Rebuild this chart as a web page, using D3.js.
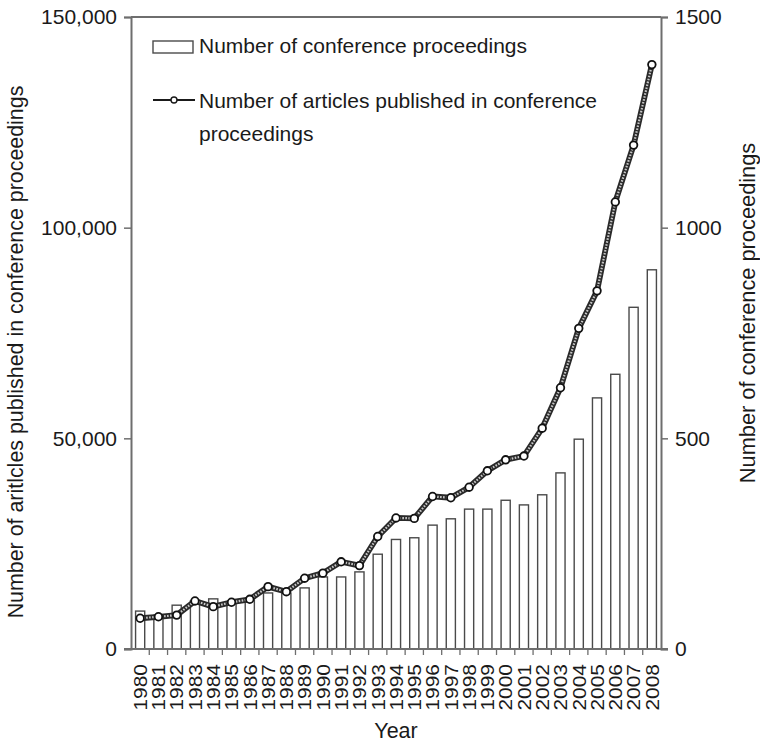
<!DOCTYPE html>
<html>
<head>
<meta charset="utf-8">
<script src="https://cdn.jsdelivr.net/npm/d3@7"></script>
<style>
  html, body { margin: 0; padding: 0; background: #fff; }
  svg text { font-family: "Liberation Sans", Arial, sans-serif; fill: #1a1a1a; }
</style>
</head>
<body>
<svg id="chart" width="760" height="742"></svg>
<script>
// Conference proceedings per year (right axis) and articles published in them (left axis)
const years = ["1980","1981","1982","1983","1984","1985","1986","1987","1988","1989",
               "1990","1991","1992","1993","1994","1995","1996","1997","1998","1999",
               "2000","2001","2002","2003","2004","2005","2006","2007","2008"];
const proceedings = [90, 80, 104, 114, 119, 109, 116, 133, 133, 145,
                     171, 171, 183, 225, 260, 264, 294, 309, 332, 332,
                     353, 342, 366, 418, 498, 596, 652, 811, 900];
const articles = [7300, 7650, 8050, 11400, 10050, 11100, 11800, 14800, 13600, 16800,
                  18000, 20700, 19800, 26700, 31100, 31000, 36200, 35900, 38400, 42300,
                  44900, 45800, 52400, 62000, 76100, 85000, 106100, 119600, 138700];
const leftTicks = [0, 50000, 100000, 150000];
const rightTicks = [0, 500, 1000, 1500];

const svg = d3.select("#chart");
const plotL = 131, plotR = 661, plotT = 17, plotB = 649;

const x = d3.scaleBand().domain(years).range([plotL, plotR]).paddingInner(0.5).paddingOuter(0.25);
const yL = d3.scaleLinear().domain([0, 150000]).range([plotB, plotT]);
const yR = d3.scaleLinear().domain([0, 1500]).range([plotB, plotT]);
const cx = d => x(d) + x.bandwidth() / 2;

const axisColor = "#6e6e6e";

// bars
svg.append("g").selectAll("rect").data(years).join("rect")
  .attr("x", d => x(d))
  .attr("width", x.bandwidth())
  .attr("y", (d, i) => yR(proceedings[i]))
  .attr("height", (d, i) => plotB - yR(proceedings[i]))
  .attr("fill", "#fff")
  .attr("stroke", "#4a4a4a")
  .attr("stroke-width", 1.4);

// frame: top line and baseline
svg.append("line").attr("x1", plotL).attr("x2", plotR).attr("y1", plotT).attr("y2", plotT)
  .attr("stroke", axisColor).attr("stroke-width", 2);
svg.append("line").attr("x1", plotL - 7).attr("x2", plotR + 7).attr("y1", plotB).attr("y2", plotB)
  .attr("stroke", axisColor).attr("stroke-width", 2);

// left axis
const gL = svg.append("g").attr("transform", `translate(${plotL},0)`)
  .call(d3.axisLeft(yL).tickValues(leftTicks).tickFormat(d3.format(",")).tickSize(7).tickPadding(7));
gL.select(".domain").attr("stroke", axisColor).attr("stroke-width", 2);
gL.selectAll(".tick line").attr("stroke", axisColor).attr("stroke-width", 1.5);
gL.selectAll(".tick text").style("font-size", "21px").attr("fill", "#1a1a1a");

// right axis
const gR = svg.append("g").attr("transform", `translate(${plotR},0)`)
  .call(d3.axisRight(yR).tickValues(rightTicks).tickFormat(d3.format("d")).tickSize(7).tickPadding(7));
gR.select(".domain").attr("stroke", axisColor).attr("stroke-width", 2);
gR.selectAll(".tick line").attr("stroke", axisColor).attr("stroke-width", 1.5);
gR.selectAll(".tick text").style("font-size", "21px").attr("fill", "#1a1a1a");

// bottom category ticks at band boundaries
const step = x.step();
svg.append("g").selectAll("line").data(years.slice(1)).join("line")
  .attr("x1", d => x(d) - step * 0.25).attr("x2", d => x(d) - step * 0.25)
  .attr("y1", plotB).attr("y2", plotB + 6)
  .attr("stroke", axisColor).attr("stroke-width", 1.3);

// year labels
svg.append("g").selectAll("text").data(years).join("text")
  .attr("transform", d => `translate(${cx(d) + 6.8},${plotB + 15}) rotate(-90) scale(1.1,1)`)
  .attr("text-anchor", "end")
  .style("font-size", "19px")
  .text(d => d);

// articles line: dark outer stroke with a light hatched core
const line = d3.line().x((d, i) => cx(years[i])).y(d => yL(d));
svg.append("path").datum(articles).attr("d", line)
  .attr("fill", "none").attr("stroke", "#2a2a2a").attr("stroke-width", 5.8).attr("stroke-linejoin", "round");
svg.append("path").datum(articles).attr("d", line)
  .attr("fill", "none").attr("stroke", "#c8c8c8").attr("stroke-width", 2.2)
  .attr("stroke-dasharray", "1.6,1.4").attr("stroke-linejoin", "round");
svg.append("g").selectAll("circle").data(articles).join("circle")
  .attr("cx", (d, i) => cx(years[i])).attr("cy", d => yL(d)).attr("r", 3.8)
  .attr("fill", "#fff").attr("stroke", "#111").attr("stroke-width", 1.8);

// legend
const lg = svg.append("g");
const legendText = (px, py, s) => lg.append("text")
  .attr("x", px).attr("y", py)
  .style("font-size", "21px").text(s);
lg.append("rect").attr("x", 153).attr("y", 41).attr("width", 40).attr("height", 12)
  .attr("fill", "#fff").attr("stroke", "#4a4a4a").attr("stroke-width", 1.4);
legendText(199, 53, "Number of conference proceedings");
lg.append("line").attr("x1", 153).attr("x2", 195).attr("y1", 100).attr("y2", 100)
  .attr("stroke", "#1a1a1a").attr("stroke-width", 2);
lg.append("circle").attr("cx", 174).attr("cy", 100).attr("r", 3)
  .attr("fill", "#fff").attr("stroke", "#1a1a1a").attr("stroke-width", 1.4);
legendText(199, 108, "Number of articles published in conference");
legendText(199, 141, "proceedings");

// axis titles
svg.append("text").attr("transform", "translate(23,352) rotate(-90)")
  .attr("text-anchor", "middle").style("font-size", "21.4px")
  .text("Number of aritlcles published  in conference proceedings");
svg.append("text").attr("transform", "translate(755,313) rotate(-90)")
  .attr("text-anchor", "middle").style("font-size", "21.8px")
  .text("Number of conference proceedings");
svg.append("text").attr("x", 396).attr("y", 738)
  .attr("text-anchor", "middle").style("font-size", "21.5px")
  .text("Year");
</script>
</body>
</html>
